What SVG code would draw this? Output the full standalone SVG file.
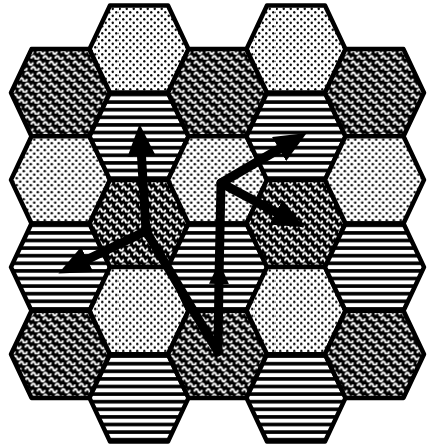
<svg xmlns="http://www.w3.org/2000/svg" xmlns:xlink="http://www.w3.org/1999/xlink" width="431" height="446" viewBox="0 0 431 446">
<style>
.hex{stroke:#000;stroke-width:4.5;stroke-linejoin:round}
.dot{fill:url(#pDots)}
.wav{fill:url(#pWave)}
.str{fill:url(#pStripes)}
.arr{fill:none;stroke:#000;stroke-width:9;stroke-linecap:round;stroke-linejoin:round}
</style>
<defs>
<pattern id="pDots" patternUnits="userSpaceOnUse" width="7" height="7">
<rect width="7" height="7" fill="#fff"/>
<circle cx="1.75" cy="1.75" r="1.2" fill="#000"/>
<circle cx="5.25" cy="5.25" r="1.2" fill="#000"/>
</pattern>
<pattern id="pWave" patternUnits="userSpaceOnUse" width="12" height="11">
<rect width="12" height="11" fill="#000"/>
<g fill="none" stroke="#fff" stroke-width="2" stroke-linecap="round">
<path d="M1,3.5 c1.2,-2.4 3,-2.4 3.6,0 c0.6,2.4 2.4,2.4 3.6,0"/>
<path d="M7,9 c1.2,-2.4 3,-2.4 3.6,0 c0.6,2.4 2.4,2.4 3.6,0"/>
<path d="M-5,9 c1.2,-2.4 3,-2.4 3.6,0 c0.6,2.4 2.4,2.4 3.6,0"/>
</g>
</pattern>
<pattern id="pStripes" patternUnits="userSpaceOnUse" width="10" height="7.6">
<rect width="10" height="7.6" fill="#fff"/>
<rect y="2" width="10" height="3.6" fill="#000"/>
</pattern>
<polygon id="hx" points="-49.5,0 -29,-43.6 29,-43.6 49.5,0 29,43.6 -29,43.6"/>
<marker id="ah" markerUnits="userSpaceOnUse" markerWidth="32" markerHeight="28" viewBox="0 0 32 28" refX="8" refY="14" orient="auto">
<path d="M0,0 L32,14 L0,28 z" fill="#000"/>
</marker>
<marker id="ahs" markerUnits="userSpaceOnUse" markerWidth="22" markerHeight="20" viewBox="0 0 22 20" refX="6" refY="10" orient="auto">
<path d="M0,0 L22,10 L0,20 z" fill="#000"/>
</marker>
</defs>
<rect width="431" height="446" fill="#fff"/>
<g id="hexes">
<g id="hex-c0-r0"><use href="#hx" x="60.5" y="92.7" class="hex wav"/></g>
<g id="hex-c0-r1"><use href="#hx" x="60.5" y="179.9" class="hex dot"/></g>
<g id="hex-c0-r2"><use href="#hx" x="60.5" y="267.1" class="hex str"/></g>
<g id="hex-c0-r3"><use href="#hx" x="60.5" y="354.3" class="hex wav"/></g>
<g id="hex-c1-r0"><use href="#hx" x="139" y="49.1" class="hex dot"/></g>
<g id="hex-c1-r1"><use href="#hx" x="139" y="136.3" class="hex str"/></g>
<g id="hex-c1-r2"><use href="#hx" x="139" y="223.5" class="hex wav"/></g>
<g id="hex-c1-r3"><use href="#hx" x="139" y="310.7" class="hex dot"/></g>
<g id="hex-c1-r4"><use href="#hx" x="139" y="397.9" class="hex str"/></g>
<g id="hex-c2-r0"><use href="#hx" x="217.5" y="92.7" class="hex wav"/></g>
<g id="hex-c2-r1"><use href="#hx" x="217.5" y="179.9" class="hex dot"/></g>
<g id="hex-c2-r2"><use href="#hx" x="217.5" y="267.1" class="hex str"/></g>
<g id="hex-c2-r3"><use href="#hx" x="217.5" y="354.3" class="hex wav"/></g>
<g id="hex-c3-r0"><use href="#hx" x="296" y="49.1" class="hex dot"/></g>
<g id="hex-c3-r1"><use href="#hx" x="296" y="136.3" class="hex str"/></g>
<g id="hex-c3-r2"><use href="#hx" x="296" y="223.5" class="hex wav"/></g>
<g id="hex-c3-r3"><use href="#hx" x="296" y="310.7" class="hex dot"/></g>
<g id="hex-c3-r4"><use href="#hx" x="296" y="397.9" class="hex str"/></g>
<g id="hex-c4-r0"><use href="#hx" x="374.5" y="92.7" class="hex wav"/></g>
<g id="hex-c4-r1"><use href="#hx" x="374.5" y="179.9" class="hex dot"/></g>
<g id="hex-c4-r2"><use href="#hx" x="374.5" y="267.1" class="hex str"/></g>
<g id="hex-c4-r3"><use href="#hx" x="374.5" y="354.3" class="hex wav"/></g>
</g>
<g id="connectors">
<path class="arr" d="M146,231 L141,148" marker-end="url(#ah)"/>
<path class="arr" d="M146,231 L80,263" marker-end="url(#ah)"/>
<path class="arr" d="M146,231 L218,352 L219,278" marker-end="url(#ahs)"/>
<path class="arr" d="M219,278 L221,183"/>
<path class="arr" d="M221,183 L286,145" marker-end="url(#ah)"/>
<path class="arr" d="M221,183 L283,216" marker-end="url(#ah)"/>
</g>
</svg>
